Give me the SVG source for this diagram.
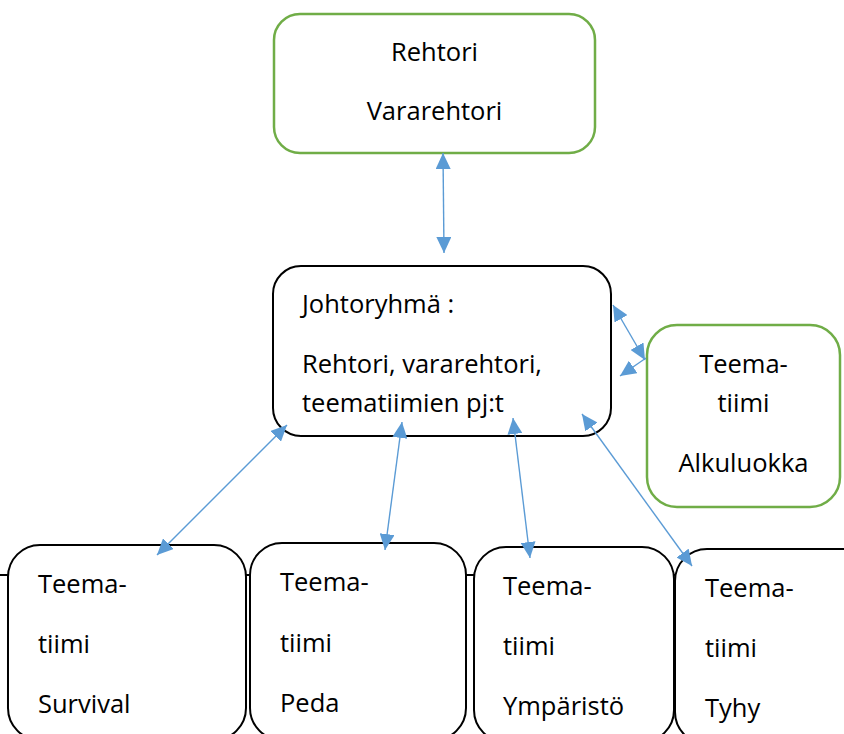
<svg xmlns="http://www.w3.org/2000/svg" width="844" height="734" viewBox="0 0 844 734">
<style>
  .t { font-family: "Open Sans", "Liberation Sans", sans-serif; font-size: 25.5px; fill: #000; }
  .c { text-anchor: middle; }
  .green { fill: #fff; stroke: #70AD47; stroke-width: 2.5; }
  .black { fill: #fff; stroke: #000; stroke-width: 2; }
  .conn { stroke: #5B9BD5; stroke-width: 1.4; fill: none; marker-start: url(#ah); marker-end: url(#ah); }
  .one { marker-start: none; }
</style>
<defs>
  <marker id="ah" markerUnits="userSpaceOnUse" markerWidth="16" markerHeight="15" refX="16" refY="7.5" orient="auto-start-reverse">
    <path d="M0,0 L16,7.5 L0,15 z" fill="#5B9BD5"/>
  </marker>
</defs>
<rect width="844" height="734" fill="#fff"/>
<line x1="0" y1="575" x2="680" y2="575" stroke="#000" stroke-width="2"/>

<g id="rehtori">
  <rect class="green" x="274" y="14" width="321" height="139" rx="26"/>
  <text class="t c" x="434.5" y="61">Rehtori</text>
  <text class="t c" x="434.5" y="120">Vararehtori</text>
</g>

<g id="johtoryhma">
  <rect class="black" x="273" y="266" width="338" height="170" rx="28"/>
  <text class="t" x="302" y="313">Johtoryhmä :</text>
  <text class="t" x="302" y="373">Rehtori, vararehtori,</text>
  <text class="t" x="302" y="412">teematiimien pj:t</text>
</g>

<g id="alkuluokka">
  <rect class="green" x="647" y="325" width="193" height="182" rx="30"/>
  <text class="t c" x="743.5" y="373">Teema-</text>
  <text class="t c" x="743.5" y="412">tiimi</text>
  <text class="t c" x="743.5" y="472">Alkuluokka</text>
</g>

<g id="survival">
  <rect class="black" x="8" y="545" width="238" height="195" rx="32"/>
  <text class="t" x="38" y="593">Teema-</text>
  <text class="t" x="38" y="653">tiimi</text>
  <text class="t" x="38" y="713">Survival</text>
</g>

<g id="peda">
  <rect class="black" x="250" y="543" width="216" height="197" rx="32"/>
  <text class="t" x="280" y="591">Teema-</text>
  <text class="t" x="280" y="652">tiimi</text>
  <text class="t" x="280" y="712">Peda</text>
</g>

<g id="ymparisto">
  <rect class="black" x="474" y="547" width="200" height="195" rx="32"/>
  <text class="t" x="503" y="595">Teema-</text>
  <text class="t" x="503" y="655">tiimi</text>
  <text class="t" x="503" y="715">Ympäristö</text>
</g>

<g id="tyhy">
  <rect class="black" x="675" y="549" width="200" height="195" rx="32"/>
  <text class="t" x="705" y="597">Teema-</text>
  <text class="t" x="705" y="657">tiimi</text>
  <text class="t" x="705" y="717">Tyhy</text>
</g>

<g id="connectors">
  <line class="conn" x1="443" y1="153" x2="444" y2="253"/>
  <line class="conn" x1="613" y1="305" x2="645" y2="360"/>
  <line class="conn one" x1="646" y1="358" x2="620" y2="376"/>
  <line class="conn" x1="287" y1="425" x2="157" y2="555"/>
  <line class="conn" x1="402" y1="422" x2="385" y2="550"/>
  <line class="conn" x1="513" y1="418" x2="530" y2="558"/>
  <line class="conn" x1="582" y1="414" x2="692" y2="566"/>
</g>
</svg>
